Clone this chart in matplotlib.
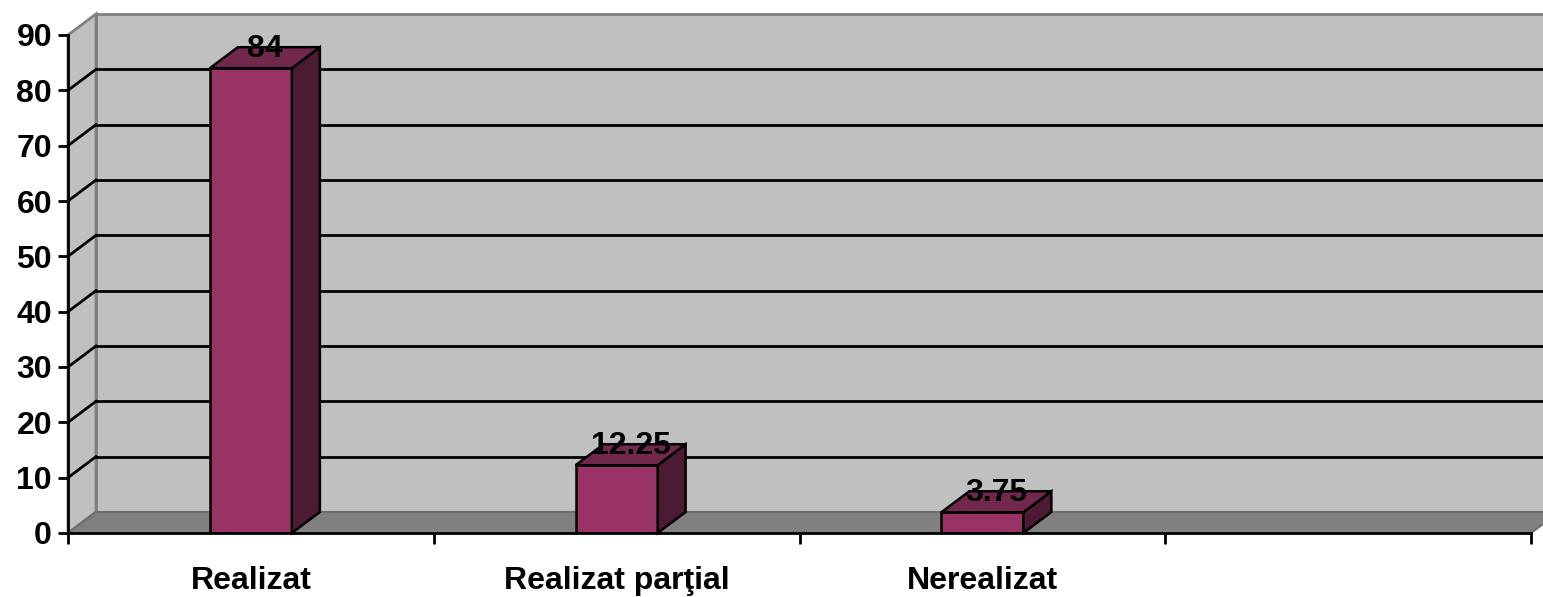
import matplotlib.pyplot as plt
from matplotlib.patches import Polygon, Rectangle

categories = ['Realizat', 'Realizat parţial', 'Nerealizat', '']
values = [84, 12.25, 3.75]
value_labels = ['84', '12.25', '3.75']
yticks = list(range(0, 100, 10))
ymax = 90

W, H = 1543, 597
plt.rcParams['font.family'] = ['Liberation Sans', 'DejaVu Sans']
plt.rcParams['font.weight'] = 'bold'
fs = 23

fig = plt.figure(figsize=(W / 100, H / 100), dpi=100)
left, right, bottom, top = 68, 1531, 533, 35
ax = fig.add_axes([left / W, 1 - bottom / H, (right - left) / W, (bottom - top) / H])
ncat = len(categories)
ax.set_xlim(0, ncat)
ax.set_ylim(0, ymax)
ax.patch.set_visible(False)

# 3d depth, expressed in data units
dx = 28 * ncat / (right - left)
dy = 21 * ymax / (bottom - top)

wall = '#c0c0c0'
floor = '#808080'
edge = '#808080'

# back wall + side wall
ax.add_patch(Polygon([(dx, dy), (ncat + dx, dy), (ncat + dx, ymax + dy), (dx, ymax + dy)],
                     closed=True, fc=wall, ec=edge, lw=2, zorder=1, clip_on=False))
ax.add_patch(Polygon([(0, 0), (dx, dy), (dx, ymax + dy), (0, ymax)],
                     closed=True, fc=wall, ec=edge, lw=2, zorder=1, clip_on=False))

# gridlines
for y in yticks[1:-1]:
    ax.plot([dx, ncat + dx], [y + dy, y + dy], color='black', lw=2, zorder=2, clip_on=False)
    ax.plot([0, dx], [y, y + dy], color='black', lw=2, zorder=2, clip_on=False)

# floor
ax.add_patch(Polygon([(0, 0), (ncat, 0), (ncat + dx, dy), (dx, dy)],
                     closed=True, fc=floor, ec='#6e6e6e', lw=1.5, zorder=3, clip_on=False))

# bars
bw = 82 * ncat / (right - left)
front, side, topc = '#993366', '#4d1a33', '#72284d'
for i, v in enumerate(values):
    c = i + 0.5
    x0, x1 = c - bw / 2, c + bw / 2
    ax.add_patch(Rectangle((x0, 0), bw, v, fc=front, ec='black', lw=1.8, zorder=4))
    ax.add_patch(Polygon([(x1, 0), (x1 + dx, dy), (x1 + dx, v + dy), (x1, v)],
                         closed=True, fc=side, ec='black', lw=1.8, zorder=4, clip_on=False))
    ax.add_patch(Polygon([(x0, v), (x1, v), (x1 + dx, v + dy), (x0 + dx, v + dy)],
                         closed=True, fc=topc, ec='black', lw=1.8, zorder=4, clip_on=False))
    ax.text(c + dx / 2, v + dy / 2 + 1.5, value_labels[i], ha='center', va='center',
            fontsize=fs, fontweight='bold', zorder=5)

# axes
for s in ['top', 'right']:
    ax.spines[s].set_visible(False)
for s in ['left', 'bottom']:
    ax.spines[s].set_linewidth(2)
    ax.spines[s].set_zorder(6)
ax.set_yticks(yticks)
ax.set_yticklabels([str(t) for t in yticks], fontsize=fs, fontweight='bold')
ax.tick_params(axis='y', length=7, width=2, pad=4.5)
ax.set_xticks(range(ncat + 1))
ax.set_xticklabels([])
ax.tick_params(axis='x', which='major', length=8, width=2)
ax.set_xticks([i + 0.5 for i in range(ncat)], minor=True)
ax.set_xticklabels(categories, minor=True, fontsize=fs, fontweight='bold')
ax.tick_params(axis='x', which='minor', length=0, pad=24)

fig.savefig('out.png', dpi=100, facecolor='white')
